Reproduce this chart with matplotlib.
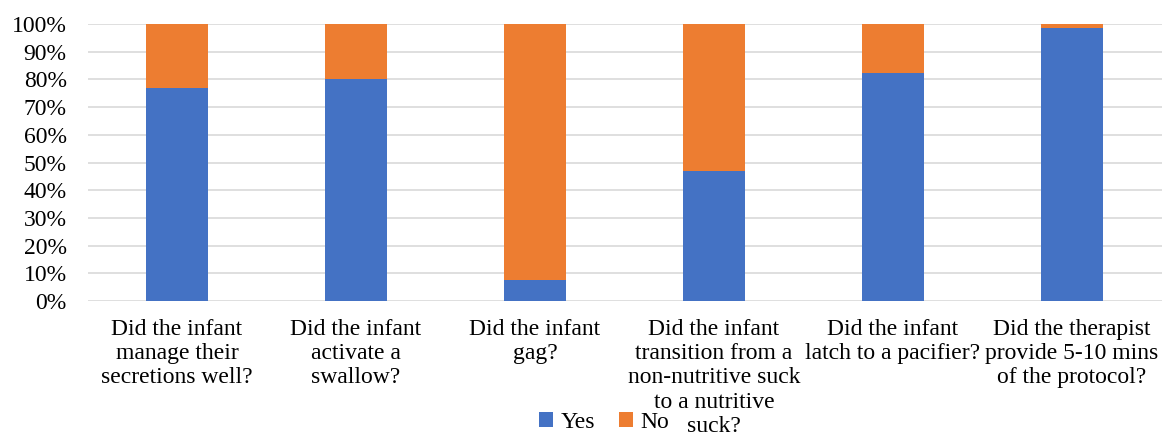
import matplotlib.pyplot as plt
from matplotlib.ticker import PercentFormatter

# ── Data ─────────────────────────────────────────────────────────────────────
QUESTIONS = [
    "Did the infant\nmanage their\nsecretions well?",
    "Did the infant\nactivate a\nswallow?",
    "Did the infant\ngag?",
    "Did the infant\ntransition from a\nnon-nutritive suck\nto a nutritive\nsuck?",
    "Did the infant\nlatch to a pacifier?",
    "Did the therapist\nprovide 5-10 mins\nof the protocol?",
]
YES = [76.9, 80.0, 7.6, 47.0, 82.4, 98.6]
NO = [100 - v for v in YES]

BLUE = "#4472C4"
ORANGE = "#ED7D31"
FS = 17

plt.rcParams["font.family"] = ["Liberation Serif", "DejaVu Serif"]

fig = plt.figure(figsize=(11.62, 4.44), dpi=100)
ax = fig.add_axes([87.5 / 1162, 1 - 301 / 444, 1074 / 1162, 277 / 444])

x = range(len(QUESTIONS))
ax.bar(x, YES, width=0.35, color=BLUE, label="Yes", zorder=3)
ax.bar(x, NO, width=0.35, bottom=YES, color=ORANGE, label="No", zorder=3)

ax.set_xlim(-0.5, len(QUESTIONS) - 0.5)
ax.set_ylim(0, 100)
ax.set_yticks(range(0, 101, 10))
ax.yaxis.set_major_formatter(PercentFormatter(decimals=0))
ax.grid(axis="y", color="#D9D9D9", linewidth=1.2, zorder=0)
ax.set_xticks(list(x))
ax.set_xticklabels(QUESTIONS, fontsize=FS, linespacing=1.2)
ax.tick_params(axis="both", length=0, labelsize=FS)
ax.tick_params(axis="x", pad=13)
ax.tick_params(axis="y", pad=15)
for spine in ax.spines.values():
    spine.set_visible(False)

fig.legend(
    loc="center",
    bbox_to_anchor=(604 / 1162, 1 - 422 / 444),
    ncol=2,
    frameon=False,
    fontsize=FS,
    handlelength=0.6,
    handleheight=0.6,
    handletextpad=0.3,
    columnspacing=1.0,
)

fig.savefig("out.png", dpi=100, facecolor="white")
